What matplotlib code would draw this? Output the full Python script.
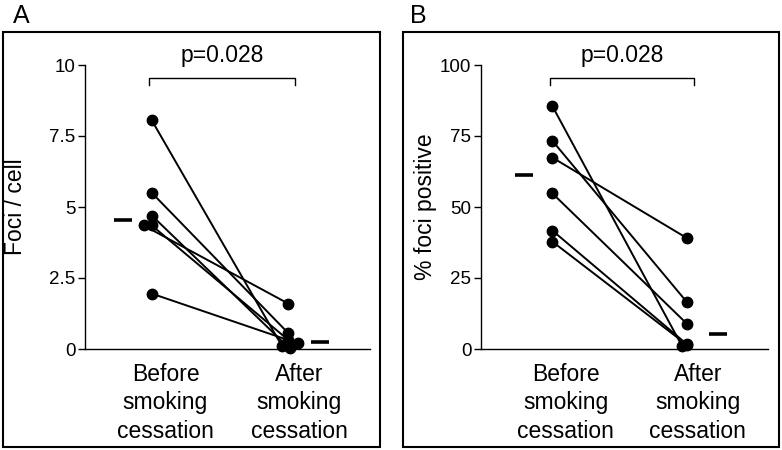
import matplotlib.pyplot as plt
from matplotlib.patches import Rectangle
import numpy as np

plt.rcParams['font.family'] = ['Liberation Sans', 'DejaVu Sans']

groups = ["Before\nsmoking\ncessation", "After\nsmoking\ncessation"]

# panel A: foci per cell, paired before/after
foci_before = [8.05, 5.5, 4.7, 4.35, 4.35, 1.95]
foci_after = [0.1, 0.56, 0.02, 1.6, 0.32, 0.2]
# panel B: % foci positive
pct_before = [85.5, 73.3, 67.4, 54.8, 41.7, 37.8]
pct_after = [1.2, 16.4, 39.0, 8.8, 1.6, 1.4]

p_text = "p=0.028"

# small horizontal jitter of the dots as in the original
jit_a_before = [0, 0, 0, -0.06, 0, 0]
jit_a_after = [-0.045, 0, 0.01, 0, 0, 0.07]
jit_b_before = [0, 0, 0, 0, 0, 0]
jit_b_after = [-0.04, 0, 0, 0, 0, 0]


def panel(ax, before, after, jb, ja, ymax, yticks, yticklabels, ylabel):
    before = np.array(before)
    after = np.array(after)
    xb = 1 + np.array(jb)
    xa = 2 + np.array(ja)
    for i in range(len(before)):
        ax.plot([xb[i], xa[i]], [before[i], after[i]], color='black', lw=1.4,
                clip_on=False, zorder=2)
    ax.plot(xb, before, 'o', color='black', ms=7.5, clip_on=False, zorder=3)
    ax.plot(xa, after, 'o', color='black', ms=7.5, clip_on=False, zorder=3)
    # medians
    ax.plot([0.79], [np.median(before)], marker='_', color='black', ms=13, mew=2.6,
            clip_on=False)
    ax.plot([2.23], [np.median(after)], marker='_', color='black', ms=13, mew=2.6,
            clip_on=False)

    # significance bracket
    yb = ymax * 0.954
    yl = ymax * 0.93
    ax.plot([0.98, 0.98, 2.05, 2.05], [yl, yb, yb, yl], color='black', lw=1,
            clip_on=False)
    ax.text(1.515, ymax * 1.035, p_text, ha='center', va='center', fontsize=16.5)

    ax.set_ylim(0, ymax)
    ax.set_xlim(0.5, 2.6)
    ax.set_yticks(yticks)
    ax.set_yticklabels(yticklabels)
    ax.set_xticks([1.1, 2.08])
    ax.set_xticklabels(groups, fontsize=16.5, linespacing=1.3)
    ax.tick_params(axis='x', length=0, pad=10)
    ax.tick_params(axis='y', length=5, width=1, labelsize=13.5, pad=2)
    ax.set_ylabel(ylabel, fontsize=16.5)
    ax.spines['top'].set_visible(False)
    ax.spines['right'].set_visible(False)
    ax.spines['left'].set_linewidth(1)
    ax.spines['bottom'].set_linewidth(1)


fig = plt.figure(figsize=(7.82, 4.5), dpi=100)

ax1 = fig.add_axes([85 / 782, 101 / 450, 285 / 782, 284 / 450])
ax2 = fig.add_axes([481 / 782, 101 / 450, 287 / 782, 284 / 450])

panel(ax1, foci_before, foci_after, jit_a_before, jit_a_after, 10,
      [0, 2.5, 5, 7.5, 10], ["0", "2.5", "5", "7.5", "10"], "Foci / cell")
panel(ax2, pct_before, pct_after, jit_b_before, jit_b_after, 100,
      [0, 25, 50, 75, 100], ["0", "25", "50", "75", "100"], "% foci positive")
ax1.set_xlim(0.51, 2.6)
ax2.set_xlim(0.47, 2.6)
ax1.yaxis.set_label_coords(-0.205, 0.5)
ax2.yaxis.set_label_coords(-0.155, 0.5)

# panel frames and letters
fig.add_artist(Rectangle((3 / 782, 3 / 450), 377 / 782, 415 / 450, transform=fig.transFigure,
                         fill=False, edgecolor='black', lw=1.5))
fig.add_artist(Rectangle((403 / 782, 3 / 450), 376 / 782, 415 / 450, transform=fig.transFigure,
                         fill=False, edgecolor='black', lw=1.5))
fig.text(13 / 782, 1 - 16 / 450, "A", fontsize=18, va='center', ha='left')
fig.text(410 / 782, 1 - 16 / 450, "B", fontsize=18, va='center', ha='left')

fig.savefig("out.png", dpi=100)
